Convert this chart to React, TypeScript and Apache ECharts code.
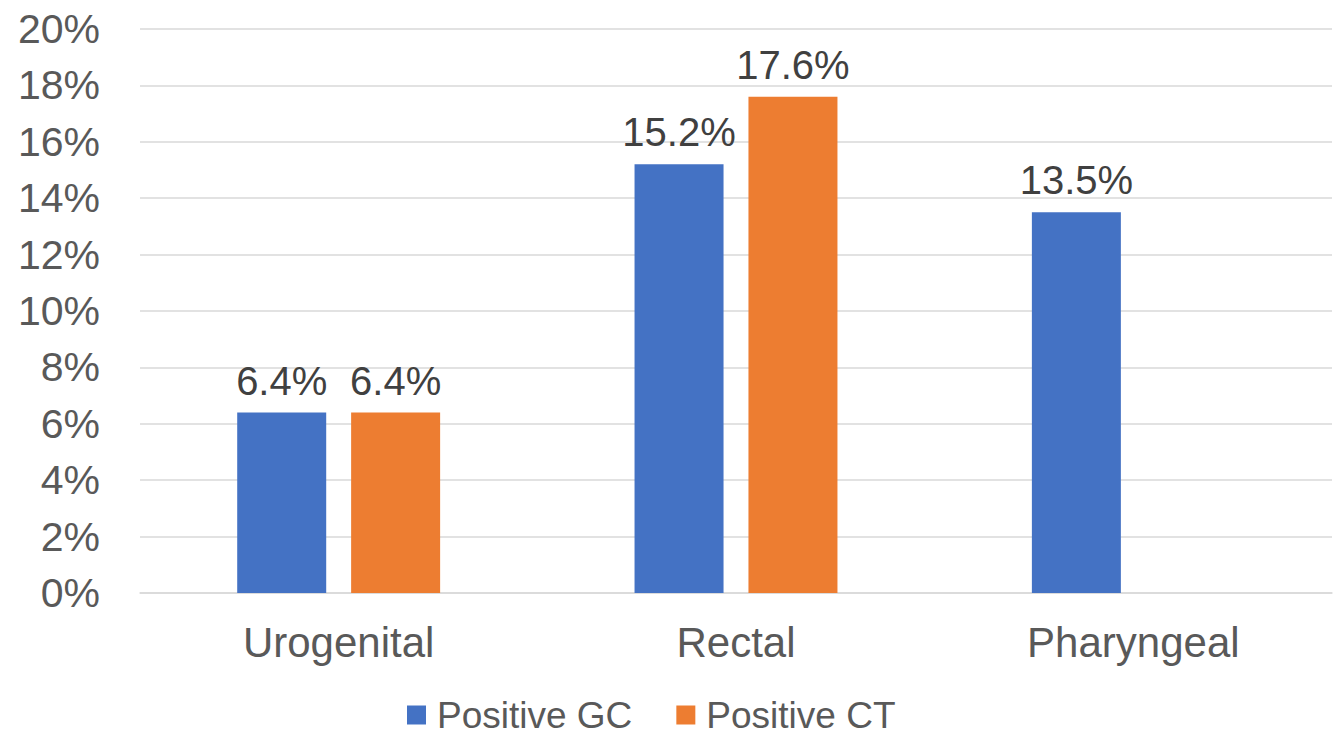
import React, { useEffect, useRef } from "react";
import * as echarts from "echarts";

// Test positivity by anatomic site
const categories = ["Urogenital", "Rectal", "Pharyngeal"];
const positiveGC = [6.4, 15.2, 13.5];
const positiveCT: (number | null)[] = [6.4, 17.6, null];
const yTicks = { min: 0, max: 20, interval: 2 };

const FONT = '"Liberation Sans", Arial, sans-serif';
const AXIS_COLOR = "#595959";
const LABEL_COLOR = "#404040";
const GRID_COLOR = "#D9D9D9";

export default function App() {
  const ref = useRef<HTMLDivElement>(null);

  useEffect(() => {
    document.body.style.margin = "0";
    const chart = echarts.init(ref.current!, null, { renderer: "svg" });

    const barLabel = {
      show: true,
      position: "top" as const,
      distance: 12,
      formatter: "{c}%",
      color: LABEL_COLOR,
      fontSize: 40,
      fontFamily: FONT,
    };

    chart.setOption({
      animation: false,
      backgroundColor: "#ffffff",
      textStyle: { fontFamily: FONT },
      grid: { left: 140, right: 8, top: 29, bottom: 141, containLabel: false },
      legend: {
        data: ["Positive GC", "Positive CT"],
        left: 407,
        top: 695,
        padding: 0,
        icon: "rect",
        itemWidth: 19,
        itemHeight: 19,
        itemGap: 44,
        textStyle: {
          color: AXIS_COLOR,
          fontSize: 37,
          fontFamily: FONT,
          lineHeight: 40,
          padding: [0, 0, 0, 6],
        },
      },
      xAxis: {
        type: "category",
        data: categories,
        axisTick: { show: false },
        axisLine: { lineStyle: { color: GRID_COLOR, width: 1.5 } },
        axisLabel: {
          color: AXIS_COLOR,
          fontSize: 42,
          fontFamily: FONT,
          margin: 28,
        },
      },
      yAxis: {
        type: "value",
        min: yTicks.min,
        max: yTicks.max,
        interval: yTicks.interval,
        axisLine: { show: false },
        axisTick: { show: false },
        splitLine: { lineStyle: { color: GRID_COLOR, width: 1.5 } },
        axisLabel: {
          formatter: "{value}%",
          color: AXIS_COLOR,
          fontSize: 41,
          fontFamily: FONT,
          margin: 40,
        },
      },
      series: [
        {
          name: "Positive GC",
          type: "bar",
          data: positiveGC,
          itemStyle: { color: "#4472C4" },
          barWidth: 89,
          barGap: "28%",
          label: barLabel,
        },
        {
          name: "Positive CT",
          type: "bar",
          data: positiveCT,
          itemStyle: { color: "#ED7D31" },
          barWidth: 89,
          barGap: "28%",
          label: barLabel,
        },
      ],
    });

    return () => chart.dispose();
  }, []);

  return <div ref={ref} style={{ width: 1340, height: 734 }} />;
}
